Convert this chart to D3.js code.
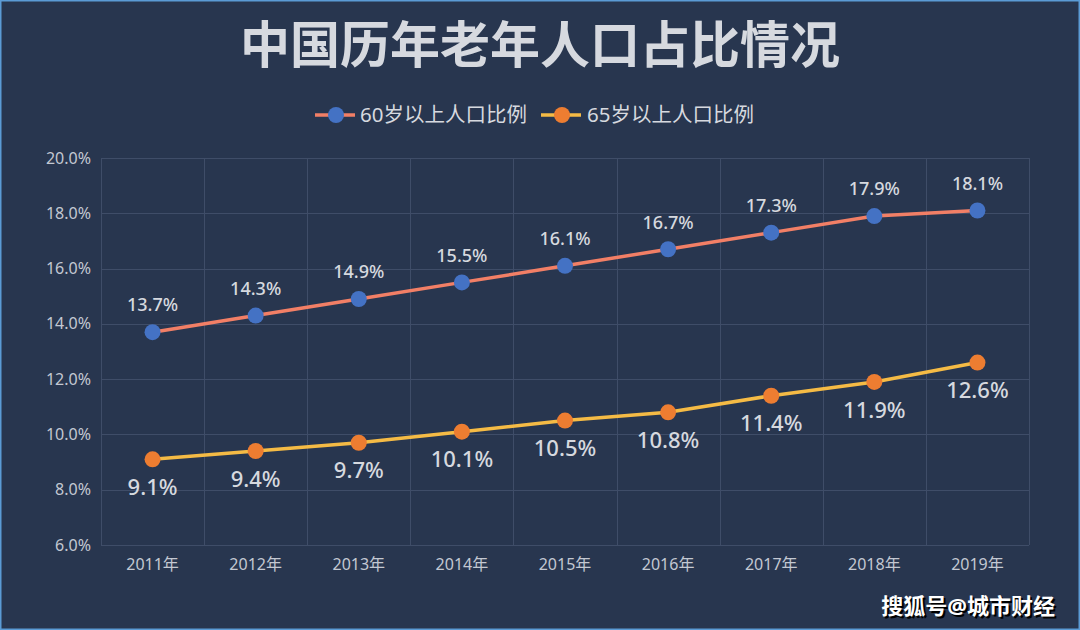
<!DOCTYPE html>
<html><head><meta charset="utf-8">
<script src="https://cdn.jsdelivr.net/npm/d3@7"></script>
<style>
html,body{margin:0;padding:0;background:#28364f;}
svg{display:block;}
</style></head>
<body>
<svg id="c" width="1080" height="630"></svg>
<script>
const title = "中国历年老年人口占比情况";
const categories = ["2011年","2012年","2013年","2014年","2015年","2016年","2017年","2018年","2019年"];
const seriesNames = ["60岁以上人口比例","65岁以上人口比例"];
const over60 = [13.7,14.3,14.9,15.5,16.1,16.7,17.3,17.9,18.1];
const over65 = [9.1,9.4,9.7,10.1,10.5,10.8,11.4,11.9,12.6];
const yTicks = [6,8,10,12,14,16,18,20];
const watermark = "搜狐号@城市财经";

const font = "'Noto Sans','Noto Sans CJK SC',sans-serif";
const svg = d3.select("#c");
const W = 1080, H = 630;
const m = {left:101, right:1029, top:158, bottom:545};

svg.append("rect").attr("x",0.5).attr("y",0.5).attr("width",W-1).attr("height",H-1)
  .attr("fill","#28364f").attr("stroke","#5b9bd5").attr("stroke-width",2);

const x = d3.scaleBand().domain(categories).range([m.left,m.right]);
const y = d3.scaleLinear().domain([6,20]).range([m.bottom,m.top]);

// grid
const g = svg.append("g");
g.selectAll(".hg").data(yTicks).join("line")
  .attr("x1",m.left).attr("x2",m.right)
  .attr("y1",d=>Math.round(y(d))+0.5).attr("y2",d=>Math.round(y(d))+0.5)
  .attr("stroke","#3f4d68").attr("stroke-width",1);
const vlines = categories.map(c=>x(c)).concat([m.right]);
g.selectAll(".vg").data(vlines).join("line")
  .attr("x1",d=>Math.round(d)+0.5).attr("x2",d=>Math.round(d)+0.5)
  .attr("y1",m.top).attr("y2",m.bottom)
  .attr("stroke","#3f4d68").attr("stroke-width",1);

// y axis
const ya = svg.append("g").attr("transform",`translate(${m.left},0)`)
  .call(d3.axisLeft(y).tickValues(yTicks).tickSize(0).tickPadding(10).tickFormat(d=>d.toFixed(1)+"%"));
ya.select(".domain").remove();
ya.selectAll("text").attr("fill","#c3c8d2").style("font-family",font).style("font-size","16px");

// x axis
const xa = svg.append("g").attr("transform",`translate(0,${m.bottom})`)
  .call(d3.axisBottom(x).tickSize(0).tickPadding(14));
xa.select(".domain").remove();
xa.selectAll("text").attr("fill","#c3c8d2").style("font-family",font).style("font-size","16px");

// title
svg.append("text").attr("x",540).attr("y",63).attr("text-anchor","middle")
  .attr("fill","#d6d9df").style("font-family",font).style("font-size","50px").style("font-weight","bold")
  .text(title);

const series = [
  {name:seriesNames[0], vals:over60, line:"#f27f66", dot:"#4472c4", dy:-27, fs:18},
  {name:seriesNames[1], vals:over65, line:"#f5bb45", dot:"#ed7d31", dy:28, fs:22}
];
const cx = c => x(c)+x.bandwidth()/2;
const lineGen = d3.line().x(d=>cx(d.c)).y(d=>y(d.v));

series.forEach(s=>{
  const data = categories.map((c,i)=>({c, v:s.vals[i]}));
  svg.append("path").datum(data).attr("d",lineGen).attr("fill","none")
    .attr("stroke",s.line).attr("stroke-width",3.5).attr("stroke-linejoin","round");
  svg.selectAll(null).data(data).join("circle")
    .attr("cx",d=>cx(d.c)).attr("cy",d=>y(d.v)).attr("r",8).attr("fill",s.dot);
  svg.selectAll(null).data(data).join("text")
    .attr("x",d=>cx(d.c)).attr("y",d=>y(d.v)+s.dy).attr("dy","0.35em")
    .attr("text-anchor","middle").attr("fill","#d6d9df")
    .style("font-family",font).style("font-size",s.fs+"px").style("font-weight","500")
    .text(d=>d.v.toFixed(1)+"%");
});

// legend
const leg = [{x:315, tx:360}, {x:541, tx:587}];
series.forEach((s,i)=>{
  const l = leg[i];
  svg.append("line").attr("x1",l.x).attr("x2",l.x+40).attr("y1",115).attr("y2",115)
    .attr("stroke",s.line).attr("stroke-width",3.5);
  svg.append("circle").attr("cx",l.x+21).attr("cy",115).attr("r",8).attr("fill",s.dot);
  svg.append("text").attr("x",l.tx).attr("y",115).attr("dy","0.35em")
    .attr("fill","#d6d9df").style("font-family",font).style("font-size","20.5px")
    .text(s.name);
});

// watermark
svg.append("text").attr("x",1055).attr("y",614).attr("text-anchor","end")
  .attr("fill","#000").style("font-family",font).style("font-size","22px").style("font-weight","bold")
  .attr("transform","translate(2,2)").text(watermark);
svg.append("text").attr("x",1055).attr("y",614).attr("text-anchor","end")
  .attr("fill","#ffffff").style("font-family",font).style("font-size","22px").style("font-weight","bold")
  .text(watermark);
</script>
</body></html>
